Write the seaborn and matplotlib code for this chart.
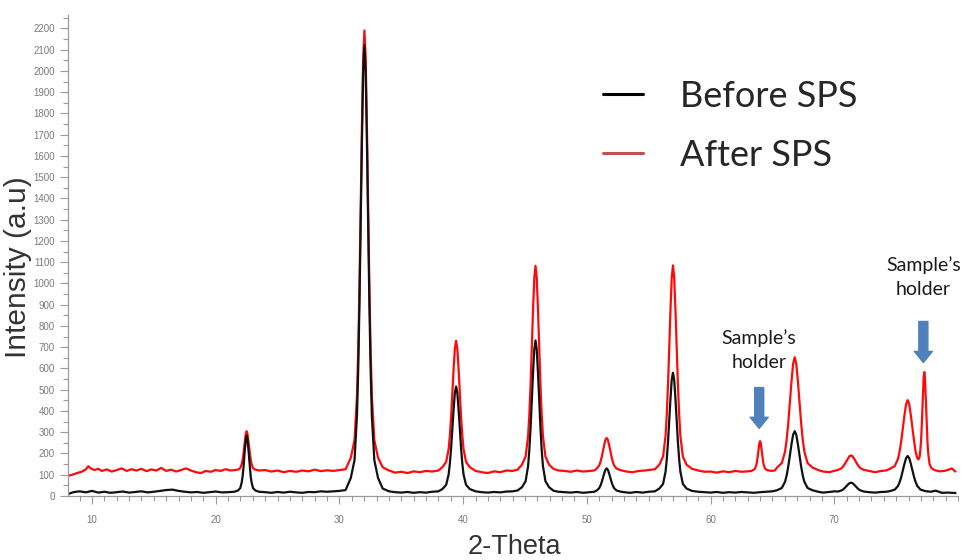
import numpy as np
import pandas as pd
import seaborn as sns
import matplotlib.pyplot as plt
from matplotlib.lines import Line2D
from matplotlib.ticker import MultipleLocator

# XRD pattern: 2-theta (deg) and intensity (a.u.)
theta_before = [8.1, 8.5, 9.0, 9.5, 10.0, 10.5, 11.0, 11.5, 12.0, 12.5, 13.0, 13.5, 14.0, 14.5,
                15.0, 15.5, 16.0, 16.5, 17.0, 17.5, 18.0, 18.5, 19.0, 19.5, 20.0, 20.5, 21.0, 21.5,
                21.8, 21.98, 22.1, 22.17, 22.24, 22.3, 22.37, 22.44, 22.5, 22.56, 22.63, 22.7,
                22.76, 22.83, 22.9, 23.02, 23.2, 23.5,
                24.0, 24.5, 25.0, 25.5, 26.0, 26.5, 27.0, 27.5, 28.0, 28.5, 29.0, 29.5, 30.0, 30.5,
                30.92, 31.22, 31.42, 31.52, 31.62, 31.72, 31.82, 31.92, 32.02, 32.12, 32.22, 32.32,
                32.42, 32.52, 32.62, 32.82, 33.12, 33.5, 34.0, 34.5, 35.0, 35.5, 36.0, 36.5, 37.0,
                37.5, 38.0,
                38.33, 38.63, 38.83, 38.93, 39.03, 39.13, 39.23, 39.33, 39.43, 39.53, 39.63, 39.73,
                39.83, 39.93, 40.03, 40.23, 40.53, 41.0, 41.5, 42.0, 42.5, 43.0, 43.5, 44.0, 44.4,
                44.75, 45.05, 45.25, 45.35, 45.45, 45.55, 45.65, 45.75, 45.85, 45.95, 46.05, 46.15,
                46.25, 46.35, 46.45, 46.65, 46.95, 47.3, 47.7, 48.2, 48.7, 49.2, 49.7, 50.2, 50.6,
                50.8, 51.0, 51.1, 51.2, 51.3, 51.4, 51.5, 51.6, 51.7, 51.8, 51.9, 52.0, 52.1, 52.2,
                52.4, 52.7, 53.0, 53.5, 54.0, 54.5, 55.0, 55.5,
                55.86, 56.16, 56.36, 56.46, 56.56, 56.66, 56.76, 56.86, 56.96, 57.06, 57.16, 57.26,
                57.36, 57.46, 57.56, 57.76, 58.06, 58.5, 59.0, 59.5, 60.0, 60.5, 61.0, 61.5, 62.0,
                62.5, 63.0, 63.5, 64.0, 64.5, 65.0,
                65.37, 65.76, 66.02, 66.15, 66.28, 66.41, 66.54, 66.67, 66.8, 66.93, 67.06, 67.19,
                67.32, 67.45, 67.58, 67.84, 68.23, 68.7, 69.1, 69.6, 70.0,
                70.31, 70.57, 70.7, 70.83, 70.96, 71.09, 71.22, 71.35, 71.48, 71.61, 71.74, 71.87,
                72.0, 72.13, 72.39, 72.8, 73.3, 73.8, 74.2,
                74.5, 74.89, 75.15, 75.28, 75.41, 75.54, 75.67, 75.8, 75.93, 76.06, 76.19, 76.32,
                76.45, 76.58, 76.71, 76.97, 77.36, 77.8, 78.2, 78.7, 79.2, 79.8]
intensity_before = [10, 18, 22, 17, 24, 16, 20, 15, 18, 21, 16, 19, 22, 17,
                    20, 24, 28, 30, 24, 20, 17, 19, 15, 18, 21, 17, 18, 20,
                    26, 37, 63, 91, 130, 178, 228, 269, 285, 269, 228, 178,
                    130, 91, 63, 37, 26, 20,
                    18, 15, 19, 16, 20, 17, 15, 19, 18, 22, 20, 22, 24, 28,
                    85, 169, 379, 600, 904, 1282, 1671, 1996, 2122, 1996, 1671, 1282,
                    904, 600, 379, 169, 85, 35, 22, 18, 16, 19, 15, 18, 16,
                    20, 22,
                    33, 53, 102, 155, 227, 316, 408, 485, 515, 485, 408, 316,
                    227, 155, 102, 53, 33, 22, 18, 16, 19, 17, 21, 22, 26,
                    41, 70, 141, 216, 319, 447, 579, 689, 732, 689, 579, 447,
                    319, 216, 141, 70, 41, 25, 20, 18, 16, 19, 15, 18, 20,
                    26, 37, 49, 65, 85, 106, 123, 130, 123, 106, 85, 65, 49, 37,
                    26, 21, 18, 15, 19, 16, 20, 22,
                    35, 57, 114, 173, 254, 355, 459, 546, 580, 546, 459, 355,
                    254, 173, 114, 57, 35, 24, 20, 18, 16, 19, 15, 18, 16,
                    19, 17, 15, 18, 20, 22,
                    27, 38, 67, 97, 139, 190, 243, 288, 305, 288, 243, 190,
                    139, 97, 67, 38, 27, 20, 16, 19, 22,
                    21, 26, 30, 37, 45, 53, 60, 63, 60, 53, 45, 37,
                    30, 26, 21, 18, 16, 19, 20,
                    23, 30, 47, 65, 89, 120, 151, 178, 188, 178, 151, 120,
                    89, 65, 47, 30, 23, 20, 25, 15, 16, 14]

theta_after = [8.1, 8.4, 8.8, 9.2, 9.5, 9.7, 9.9, 10.2, 10.5, 10.8, 11.2, 11.6, 12.0, 12.4, 12.8,
               13.2, 13.6, 14.0, 14.4, 14.8, 15.2, 15.6, 16.0, 16.4, 16.8, 17.2, 17.6, 18.0, 18.4,
               18.8, 19.2, 19.6, 20.0, 20.4, 20.8, 21.2, 21.5,
               21.8, 21.98, 22.1, 22.17, 22.24, 22.3, 22.37, 22.44, 22.5, 22.56, 22.63, 22.7,
               22.76, 22.83, 22.9, 23.02, 23.2, 23.5,
               24.0, 24.5, 25.0, 25.5, 26.0, 26.5, 27.0, 27.5, 28.0, 28.5, 29.0, 29.5, 30.0, 30.5,
               30.92, 31.22, 31.42, 31.52, 31.62, 31.72, 31.82, 31.92, 32.02, 32.12, 32.22, 32.32,
               32.42, 32.52, 32.62, 32.82, 33.12, 33.5, 34.0, 34.5, 35.0, 35.5, 36.0, 36.5, 37.0,
               37.5, 38.0,
               38.33, 38.63, 38.83, 38.93, 39.03, 39.13, 39.23, 39.33, 39.43, 39.53, 39.63, 39.73,
               39.83, 39.93, 40.03, 40.23, 40.53, 41.0, 41.5, 42.0, 42.5, 43.0, 43.5, 44.0, 44.4,
               44.75, 45.05, 45.25, 45.35, 45.45, 45.55, 45.65, 45.75, 45.85, 45.95, 46.05, 46.15,
               46.25, 46.35, 46.45, 46.65, 46.95, 47.3, 47.7, 48.2, 48.7, 49.2, 49.7, 50.2, 50.6,
               50.8, 51.0, 51.1, 51.2, 51.3, 51.4, 51.5, 51.6, 51.7, 51.8, 51.9, 52.0, 52.1, 52.2,
               52.4, 52.7, 53.2, 53.7, 54.2, 54.7, 55.2, 55.5,
               55.86, 56.16, 56.36, 56.46, 56.56, 56.66, 56.76, 56.86, 56.96, 57.06, 57.16, 57.26,
               57.36, 57.46, 57.56, 57.76, 58.06, 58.5, 59.0, 59.5, 60.0, 60.5, 61.0, 61.5, 62.0,
               62.5, 63.0, 63.3,
               63.44, 63.58, 63.68, 63.74, 63.79, 63.84, 63.9, 63.95, 64.0, 64.05, 64.1, 64.16,
               64.21, 64.26, 64.32, 64.42, 64.56, 64.9, 65.2,
               65.37, 65.76, 66.02, 66.15, 66.28, 66.41, 66.54, 66.67, 66.8, 66.93, 67.06, 67.19,
               67.32, 67.45, 67.58, 67.84, 68.23, 68.7, 69.1, 69.6, 70.0,
               70.31, 70.57, 70.7, 70.83, 70.96, 71.09, 71.22, 71.35, 71.48, 71.61, 71.74, 71.87,
               72.0, 72.13, 72.39, 72.8, 73.3, 73.8, 74.2,
               74.5, 74.89, 75.15, 75.28, 75.41, 75.54, 75.67, 75.8, 75.93, 76.06, 76.19, 76.32,
               76.45, 76.58, 76.72, 76.8, 76.9, 76.96, 77.02, 77.07, 77.12, 77.18, 77.23, 77.28,
               77.33, 77.38, 77.44, 77.49, 77.54, 77.6, 77.7, 77.84, 78.1, 78.5, 78.9, 79.3, 79.5,
               79.65, 79.8]
intensity_after = [95, 100, 108, 115, 125, 140, 130, 122, 128, 118, 125, 115, 122, 130, 118,
                   126, 120, 128, 117, 125, 120, 132, 118, 124, 115, 122, 130, 120, 112,
                   108, 118, 114, 122, 118, 126, 120, 122,
                   124, 131, 150, 169, 197, 230, 265, 294, 305, 294, 265, 230,
                   197, 169, 150, 131, 124, 120,
                   122, 115, 120, 112, 118, 114, 120, 116, 124, 117, 121, 118, 122, 126,
                   180, 263, 470, 688, 988, 1361, 1745, 2066, 2190, 2066, 1745, 1361,
                   988, 688, 470, 263, 180, 135, 120, 110, 114, 108, 116, 112, 118,
                   115, 120,
                   136, 161, 222, 286, 375, 485, 598, 693, 730, 693, 598, 485,
                   375, 286, 222, 161, 136, 118, 112, 108, 116, 112, 120, 118, 124,
                   147, 186, 282, 383, 523, 697, 876, 1025, 1083, 1025, 876, 697,
                   523, 383, 282, 186, 147, 128, 120, 118, 114, 120, 115, 118, 120,
                   129, 144, 161, 183, 211, 240, 264, 273, 264, 240, 211, 183, 161, 144,
                   129, 122, 115, 112, 118, 120, 124, 126,
                   147, 186, 282, 384, 524, 698, 877, 1027, 1085, 1027, 877, 698,
                   524, 384, 282, 186, 147, 128, 120, 114, 115, 110, 116, 112, 118,
                   114, 116, 118,
                   122, 128, 142, 157, 177, 202, 228, 250, 258, 250, 228, 202,
                   177, 157, 142, 128, 122, 118, 120,
                   134, 155, 209, 265, 343, 439, 538, 621, 653, 621, 538, 439,
                   343, 265, 209, 155, 134, 122, 115, 112, 118,
                   123, 130, 138, 149, 162, 175, 187, 191, 187, 175, 162, 149,
                   138, 130, 123, 118, 112, 118, 120,
                   128, 141, 175, 210, 258, 318, 379, 431, 451, 431, 379, 318,
                   258, 205, 178, 172, 185, 220, 266, 331, 412, 495, 565, 583,
                   555, 483, 397, 313, 246, 197, 151, 132, 122, 116, 118, 125, 130,
                   122, 115]

legend_labels = ["Before SPS", "After SPS"]
legend_colors = ["#000000", "#c0504d"]
note_text = "Sample\u2019s\nholder"
y_ticks = list(range(0, 2300, 100))
x_ticks = [10, 20, 30, 40, 50, 60, 70]

before = pd.DataFrame({"theta": theta_before, "intensity": intensity_before})
after = pd.DataFrame({"theta": theta_after, "intensity": intensity_after})

sns.set_theme(style="white")
plt.rcParams["font.family"] = ["Liberation Sans", "DejaVu Sans"]

fig = plt.figure(figsize=(9.63, 5.6), dpi=100)
ax = fig.add_axes([68 / 963, 64 / 560, 890 / 963, 481 / 560])

sns.lineplot(data=after, x="theta", y="intensity", color="#ff0a0a", linewidth=1.6,
             estimator=None, sort=False, ax=ax)
sns.lineplot(data=before, x="theta", y="intensity", color="#111111", linewidth=1.6,
             estimator=None, sort=False, ax=ax)

ax.set_xlim(8.06, 80)
ax.set_ylim(0, 2263)
ax.set_yticks(y_ticks)
ax.set_xticks(x_ticks)
ax.xaxis.set_minor_locator(MultipleLocator(1))
ax.yaxis.set_minor_locator(MultipleLocator(50))
ax.tick_params(axis="both", which="major", direction="out", length=6, width=0.8,
               colors="#9a9a9a", labelsize=7, labelcolor="#7a7a7a")
ax.tick_params(axis="both", which="minor", direction="out", length=3.5, width=0.8,
               colors="#9a9a9a")
ax.tick_params(axis="x", which="major", pad=8)
ax.tick_params(axis="y", which="major", pad=3.5)
ax.tick_params(left=True, bottom=True, which="both")

for side in ["top", "right"]:
    ax.spines[side].set_visible(False)
for side in ["left", "bottom"]:
    ax.spines[side].set_color("#9a9a9a")
    ax.spines[side].set_linewidth(0.9)

ax.set_xlabel("2-Theta", fontsize=19.5, color="#333333")
ax.set_ylabel("Intensity (a.u)", fontsize=21.5, color="#333333")
ax.xaxis.set_label_coords(0.502, -0.08)
ax.yaxis.set_label_coords(-0.04, 0.476)

handles = [Line2D([], [], color=c, linewidth=2.2) for c in legend_colors]
ax.legend(handles, legend_labels, loc="upper left", bbox_to_anchor=(0.565, 0.933),
          frameon=False, handlelength=1.1, handletextpad=1.03, labelspacing=0.72,
          prop={"family": ["Lato", "DejaVu Sans"], "size": 26})

arrow_style = dict(arrowstyle="simple,head_length=0.8,head_width=1.3,tail_width=0.65",
                   color="#4f81bd", shrinkA=0, shrinkB=0, mutation_scale=10)
ax.annotate("", xy=(63.93, 318), xytext=(63.93, 510), arrowprops=arrow_style)
ax.annotate("", xy=(77.2, 628), xytext=(77.2, 821), arrowprops=arrow_style)
ax.text(63.93, 687, note_text, ha="center", va="center", fontsize=14, linespacing=1.5,
        color="#1a1a1a", family=["Lato", "DejaVu Sans"])
ax.text(77.2, 1032, note_text, ha="center", va="center", fontsize=14, linespacing=1.5,
        color="#1a1a1a", family=["Lato", "DejaVu Sans"])

fig.savefig("out.png", dpi=100)
